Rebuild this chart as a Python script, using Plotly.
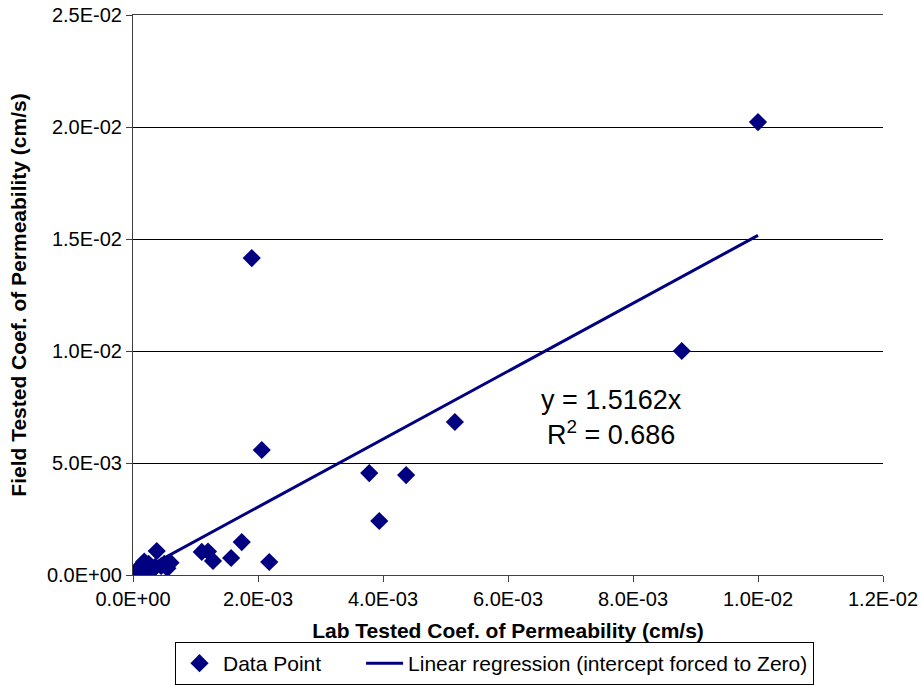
import plotly.graph_objects as go

lab_k = [0.00002, 0.00006, 0.00010, 0.00012, 0.00014, 0.00018, 0.00020, 0.00025,
         0.00030, 0.00035, 0.00038, 0.00045, 0.00050, 0.00055, 0.00060,
         0.00110, 0.00120, 0.00128, 0.00157, 0.00174, 0.00190, 0.00206, 0.00218,
         0.00378, 0.00394, 0.00437, 0.00515, 0.00878, 0.01000]
field_k = [0.00003, 0.00010, 0.00015, 0.00040, 0.00020, 0.00060, 0.00035, 0.00050,
           0.00020, 0.00035, 0.00107, 0.00040, 0.00050, 0.00030, 0.00055,
           0.00103, 0.00105, 0.00063, 0.00076, 0.00147, 0.01415, 0.00558, 0.00058,
           0.00455, 0.00241, 0.00446, 0.00683, 0.01000, 0.02022]
slope = 1.5162
r2 = 0.686

x_ticks = [0, 0.002, 0.004, 0.006, 0.008, 0.010, 0.012]
x_labels = ["0.0E+00", "2.0E-03", "4.0E-03", "6.0E-03", "8.0E-03", "1.0E-02", "1.2E-02"]
y_ticks = [0, 0.005, 0.010, 0.015, 0.020, 0.025]
y_labels = ["0.0E+00", "5.0E-03", "1.0E-02", "1.5E-02", "2.0E-02", "2.5E-02"]

navy = "#000080"
font_family = "Liberation Sans, Arial, sans-serif"
xfit = [0, max(lab_k)]
yfit = [slope * v for v in xfit]
pad = "\u00a0" * 6

fig = go.Figure()
fig.add_trace(go.Scatter(x=lab_k, y=field_k, mode="markers", name="Data Point" + pad,
                         marker=dict(symbol="diamond", size=14, color=navy, line=dict(width=0))))
fig.add_trace(go.Scatter(x=xfit, y=yfit, mode="lines",
                         name="Linear regression (intercept forced to Zero)",
                         line=dict(color=navy, width=3)))

fig.add_annotation(x=0.00766, y=0.00701, xref="x", yref="y", showarrow=False,
                   text=f"y = {slope}x<br>R<sup>2</sup> = {r2}",
                   font=dict(size=27, color="black", family=font_family),
                   align="center")

fig.update_layout(
    width=922, height=685,
    margin=dict(l=133, r=39, t=15, b=110, autoexpand=False),
    paper_bgcolor="white", plot_bgcolor="white",
    font=dict(family=font_family, size=20, color="black"),
    showlegend=True,
    legend=dict(orientation="h", x=0.056, xanchor="left", y=-0.1196, yanchor="top",
                bordercolor="black", borderwidth=1, font=dict(size=21),
                itemwidth=37, tracegroupgap=0),
    xaxis=dict(range=[0, 0.012], tickvals=x_ticks, ticktext=x_labels,
               showgrid=False, zeroline=False, showline=True, linecolor="#404040",
               linewidth=1, mirror=True, ticks="outside", ticklen=6, tickcolor="#404040",
               tickfont=dict(size=20),
               title=dict(text="<b>Lab Tested Coef. of Permeability (cm/s)</b>",
                          font=dict(size=21), standoff=14)),
    yaxis=dict(range=[0, 0.025], tickvals=y_ticks, ticktext=y_labels,
               showgrid=True, gridcolor="black", gridwidth=1, zeroline=False,
               showline=True, linecolor="#404040", linewidth=1,
               ticks="outside", ticklen=6, tickcolor="#404040",
               tickfont=dict(size=20),
               title=dict(text="<b>Field Tested Coef. of Permeability (cm/s)</b>",
                          font=dict(size=21), standoff=14)),
)
fig.write_html("out.html")
